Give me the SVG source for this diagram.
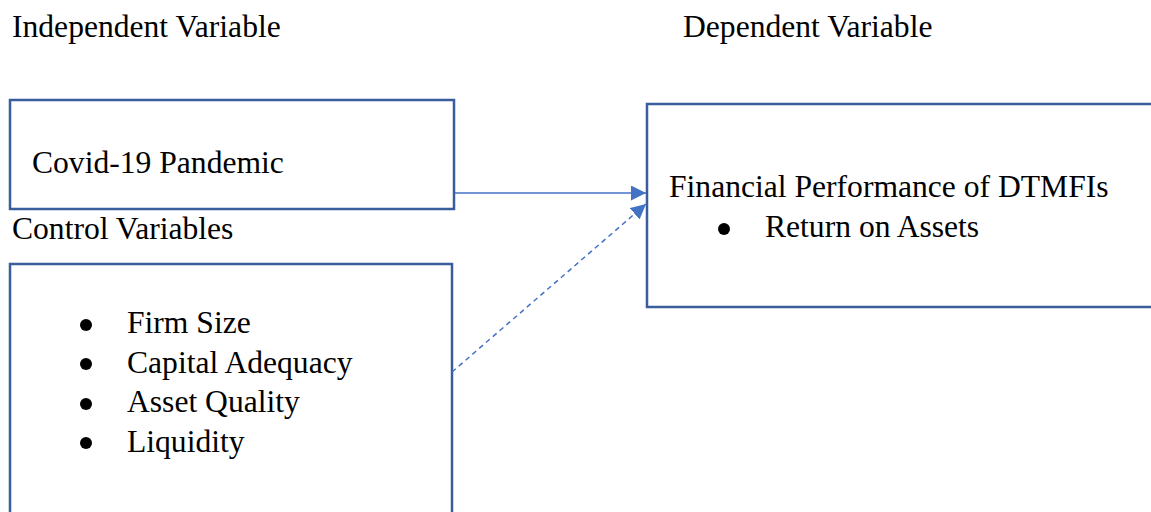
<svg xmlns="http://www.w3.org/2000/svg" width="1151" height="512" viewBox="0 0 1151 512">
<style>
text{font-family:'Liberation Serif',Tinos,'Times New Roman','DejaVu Serif',serif;font-size:31.6px;fill:#000}
.box{fill:#fff;stroke:#3A5D9C;stroke-width:2.5}
.con{stroke:#4472C4;stroke-width:1.5;fill:none}
.dash{stroke-dasharray:5 4}
</style>
<defs>
<marker id="ah" viewBox="0 0 10 10" refX="10" refY="5" markerWidth="15" markerHeight="15" markerUnits="userSpaceOnUse" orient="auto">
<path d="M0,0 L10,5 L0,10 z" fill="#4472C4"/>
</marker>
</defs>
<rect width="1151" height="512" fill="#fff"/>
<g id="headers">
<text x="12" y="37" font-family="Liberation Serif">Independent Variable</text>
<text x="683" y="37" font-family="Liberation Serif">Dependent Variable</text>
<text x="12" y="239" font-family="Liberation Serif">Control Variables</text>
</g>
<g id="covid">
<rect class="box" x="10" y="100" width="444" height="109"/>
<text x="32" y="173" font-family="Liberation Serif">Covid-19 Pandemic</text>
</g>
<g id="controls">
<rect class="box" x="10" y="264" width="442" height="270"/>
<circle cx="86" cy="325" r="6"/>
<circle cx="86" cy="364" r="6"/>
<circle cx="86" cy="404" r="6"/>
<circle cx="86" cy="443" r="6"/>
<text x="127" y="333" font-family="Liberation Serif">Firm Size</text>
<text x="127" y="373" font-family="Liberation Serif">Capital Adequacy</text>
<text x="127" y="412" font-family="Liberation Serif">Asset Quality</text>
<text x="127" y="452" font-family="Liberation Serif">Liquidity</text>
</g>
<g id="performance">
<rect class="box" x="647" y="104" width="520" height="203"/>
<text x="669" y="197" font-family="Liberation Serif">Financial Performance of DTMFIs</text>
<circle cx="724" cy="229" r="6"/>
<text x="765" y="237" font-family="Liberation Serif">Return on Assets</text>
</g>
<g id="connectors">
<line class="con" x1="455" y1="193" x2="646" y2="193" marker-end="url(#ah)"/>
<line class="con dash" x1="452" y1="372" x2="646" y2="204" marker-end="url(#ah)"/>
</g>
</svg>
